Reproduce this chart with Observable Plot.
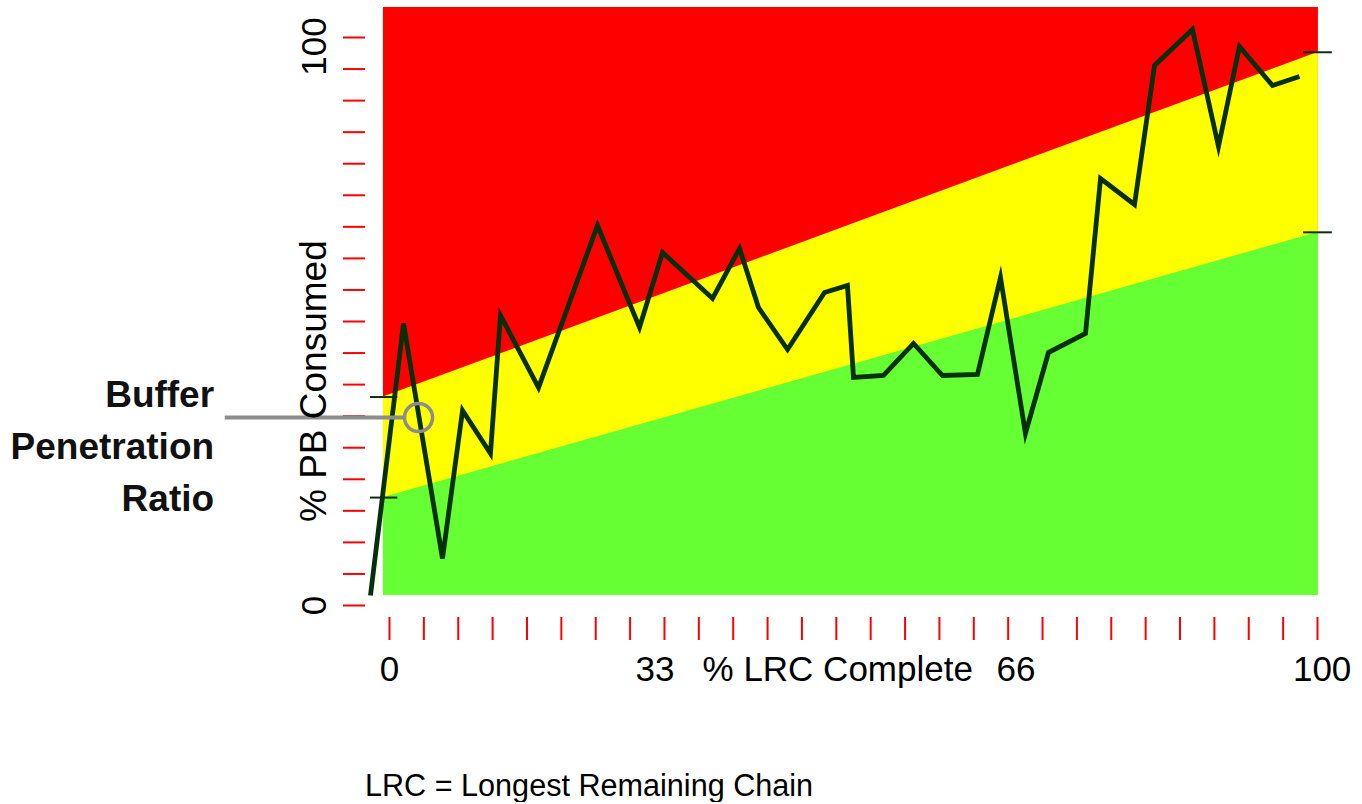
<!DOCTYPE html>
<html>
<head>
<meta charset="utf-8">
<script src="https://cdn.jsdelivr.net/npm/d3@7"></script>
<script src="https://cdn.jsdelivr.net/npm/@observablehq/plot@0.6"></script>
<style>
  body { margin: 0; background: #fff; font-family: "Liberation Sans", Arial, sans-serif; }
  #chart svg { display: block; }
  #caption { margin-top: 48px; padding-left: 365px; font-size: 30.6px; line-height: 34px; color: #000; }
</style>
</head>
<body>
<div id="chart"></div>
<div id="caption">LRC = Longest Remaining Chain</div>
<script>
// ---- Data ----
const lrcComplete = [-2.05, 1.51, 5.71, 7.87, 10.88, 11.96, 16.06, 22.41, 26.94, 29.42, 34.81, 37.72, 39.76, 42.89, 46.88, 49.35, 50.0, 53.23, 56.47, 59.59, 63.36, 65.84, 68.53, 71.01, 75.0, 76.62, 80.28, 82.44, 86.53, 89.33, 91.59, 95.15, 98.06];
const pbConsumed  = [1.76, 49.65, 8.27, 34.33, 26.76, 51.06, 38.38, 66.9, 48.94, 62.15, 54.05, 62.85, 52.46, 45.07, 55.11, 56.34, 40.14, 40.49, 46.13, 40.49, 40.67, 57.75, 30.28, 44.54, 47.89, 75.18, 70.6, 95.07, 101.41, 80.81, 98.42, 91.55, 93.13];

// zone boundaries (at left and right edge of zone panel)
const zoneX = [-0.65, 100.1];
const greenTop = [19.0, 65.7];
const redBottom = [36.7, 97.4];
const zoneBottom = 1.76;
const zoneTop = 105.3;

// axes
const xTickValues = d3.range(28).map(i => i * 100 / 27);
const yTickValues = d3.range(19).map(i => i * 100 / 18);
const xTickLabels = ["0", "33", "66", "100"];
const xTickLabelAt = [0, 28.6, 67.5, 100.5];
const yTickLabels = ["0", "100"];
const yTickLabelAt = [0, 98.4];
const xTitle = "% LRC Complete";
const yTitle = "% PB Consumed";

// annotation
const annotationText = "Buffer\nPenetration\nRatio";
const annotationPoint = {x: 3.13, y: 33.1};

// ---- Build tables ----
const points = lrcComplete.map((x, i) => ({x, y: pbConsumed[i]}));
const zones = zoneX.map((x, i) => ({x, g: greenTop[i], r: redBottom[i]}));
const xLabels = xTickLabels.map((t, i) => ({t, x: xTickLabelAt[i]}));
const yLabels = yTickLabels.map((t, i) => ({t, y: yTickLabelAt[i]}));

const W = 1362, H = 720;
const font = "Liberation Sans, Arial, sans-serif";

const chart = Plot.plot({
  width: W,
  height: H,
  marginLeft: 365,
  marginBottom: H - 617,
  marginTop: 0,
  marginRight: 0,
  style: {fontFamily: font, background: "#fff", color: "#000", overflow: "visible"},
  x: {domain: [0, 100], range: [389, 1317], label: null},
  y: {domain: [0, 100], range: [605, 37], label: null},
  marks: [
    // zones
    Plot.areaY(zones, {x: "x", y1: zoneBottom, y2: zoneTop, fill: "#FF0000"}),
    Plot.areaY(zones, {x: "x", y1: zoneBottom, y2: "r", fill: "#FFFF00"}),
    Plot.areaY(zones, {x: "x", y1: zoneBottom, y2: "g", fill: "#66FF33"}),
    // axis ticks (red)
    Plot.axisX({ticks: xTickValues, tickSize: 23, tickFormat: () => "", stroke: "#FF0000", strokeWidth: 2, label: null}),
    Plot.axisY({ticks: yTickValues, tickSize: 22, tickFormat: () => "", stroke: "#FF0000", strokeWidth: 2, label: null}),
    // zone boundary ticks (black)
    Plot.ruleY([greenTop[0], redBottom[0]], {x1: -2.05, x2: 0.9, stroke: "#0d2e0d", strokeWidth: 2}),
    Plot.ruleY([greenTop[1], redBottom[1]], {x1: 98.5, x2: 101.6, stroke: "#0d2e0d", strokeWidth: 2}),
    // data line
    Plot.line(points, {x: "x", y: "y", stroke: "#07300a", strokeWidth: 4.8, strokeLinejoin: "miter", strokeMiterlimit: 6, strokeLinecap: "butt"}),
    // annotation
    Plot.ruleY([annotationPoint.y], {x1: -17.7, x2: 1.6, stroke: "#8c8c8c", strokeWidth: 4}),
    Plot.dot([annotationPoint], {x: "x", y: "y", r: 14, stroke: "#8c8c8c", strokeWidth: 3.5, fill: "none"}),
    Plot.text([annotationText], {x: -18.9, y: 28.7, text: d => d, textAnchor: "end", fontSize: 37, fontWeight: "bold", lineHeight: 1.4, fill: "#111"}),
    // tick labels
    Plot.text(xLabels, {x: "x", y: -11.4, text: "t", fontSize: 35, fill: "#000"}),
    Plot.text(yLabels, {x: -8.1, y: "y", text: "t", fontSize: 35, rotate: -90, fill: "#000"}),
    // axis titles
    Plot.text([xTitle], {x: 48.3, y: -11.4, text: d => d, fontSize: 35, fill: "#000"}),
    Plot.text([yTitle], {x: -8.1, y: 39.5, text: d => d, fontSize: 37, rotate: -90, fill: "#000"})
  ]
});
document.getElementById("chart").appendChild(chart);
</script>
</body>
</html>
